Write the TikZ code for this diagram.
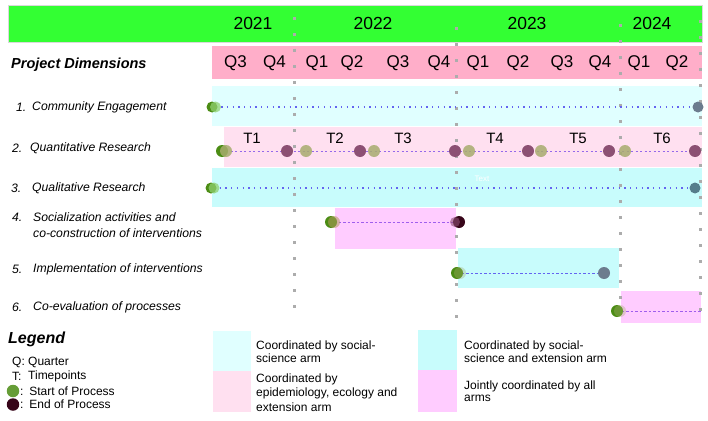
\documentclass[tikz,border=0pt]{standalone}
\usepackage{fontspec}
\setmainfont{Liberation Sans}
\usetikzlibrary{backgrounds}
\definecolor{barG}{RGB}{51,255,51}
\definecolor{qpink}{RGB}{255,174,201}
\definecolor{lcyan}{RGB}{224,255,255}
\definecolor{cyanb}{RGB}{200,252,252}
\definecolor{lpink}{RGB}{255,224,240}
\definecolor{magb}{RGB}{255,204,255}
\definecolor{gridc}{RGB}{172,172,172}
\definecolor{dkgreen}{RGB}{75,140,20}
\definecolor{olivec}{RGB}{168,172,110}
\definecolor{purpc}{RGB}{140,80,115}
\definecolor{endgc}{RGB}{108,124,142}
\definecolor{maroonc}{RGB}{55,5,25}
\definecolor{bluedot}{RGB}{100,100,240}
\definecolor{purpdash}{RGB}{150,105,235}
\begin{document}
\begin{tikzpicture}[x=1pt,y=-1pt,
  lbl/.style={font=\fontsize{12.2}{16}\selectfont\itshape, anchor=west, inner sep=0pt},
  yr/.style={font=\fontsize{17.5}{20}\selectfont, inner sep=0pt},
  qq/.style={font=\fontsize{17}{20}\selectfont, inner sep=0pt},
  tt/.style={font=\fontsize{15}{18}\selectfont, inner sep=0pt},
  leg/.style={font=\fontsize{12}{13.5}\selectfont, anchor=west, inner sep=0pt, align=left},
  dot/.style={circle, inner sep=0pt, minimum size=12pt},
  olivedot/.style={dot, fill=olivec, fill opacity=.85},
  greendot/.style={dot, fill=dkgreen},
  purpdot/.style={dot, fill=purpc},
  enddot/.style={dot, fill=endgc},
  gridl/.style={draw=gridc, line width=3pt, dash pattern=on 3pt off 13pt},
  dotl/.style={draw=bluedot, line width=1.3pt, dash pattern=on 1.3pt off 4.4pt},
  dashq/.style={draw=purpdash, line width=1pt, dash pattern=on 2pt off 2.5pt},
  dashp/.style={draw=purpdash!90!magenta, line width=1pt, dash pattern=on 2.5pt off 2pt},
  dashb/.style={draw=bluedot, line width=1pt, dash pattern=on 2.5pt off 2pt}]
\useasboundingbox (0,0) rectangle (708,420);

\begin{pgfonlayer}{background}
  % header bars
  \fill[barG, draw=gray!30, line width=0.6pt] (8,5) rectangle (702,42);
  \fill[qpink] (212,46) rectangle (702,79);
  % row boxes
  \fill[lcyan] (212,86) rectangle (702,126);
  \fill[lpink] (224,127) rectangle (702,167);
  \fill[cyanb] (212,168) rectangle (702,207);
  \fill[magb] (335,208) rectangle (456,249);
  \fill[cyanb] (458,248) rectangle (619,288);
  \fill[magb] (621,291) rectangle (701,323);
  % legend boxes
  \fill[lcyan] (213,331) rectangle (251,371);
  \fill[lpink] (213,371) rectangle (251,412);
  \fill[cyanb] (418,330) rectangle (457,370);
  \fill[magb] (418,370) rectangle (457,412);
  % vertical year dividers
  \draw[gridl] (294,17) -- (294,318);
  \draw[gridl] (456,27) -- (456,318);
  \draw[gridl] (620,24) -- (620,322);
  \draw[gridl] (700,20) -- (700,322);
\end{pgfonlayer}

% years
\node[yr] (y21) at (253,23) {2021};
\node[yr] (y22) at (373,23) {2022};
\node[yr] (y23) at (527,23) {2023};
\node[yr] (y24) at (652,23) {2024};

% quarters
\node[qq] (q1) at (235.5,63) {Q3};
\node[qq] (q2) at (274.5,63) {Q4};
\node[qq] (q3) at (317,63) {Q1};
\node[qq] (q4) at (352,63) {Q2};
\node[qq] (q5) at (398,63) {Q3};
\node[qq] (q6) at (439,63) {Q4};
\node[qq] (q7) at (478,63) {Q1};
\node[qq] (q8) at (518,63) {Q2};
\node[qq] (q9) at (562,63) {Q3};
\node[qq] (q10) at (600,63) {Q4};
\node[qq] (q11) at (639,63) {Q1};
\node[qq] (q12) at (677,63) {Q2};

\node[font=\fontsize{14.5}{17}\selectfont\bfseries\itshape, anchor=west, inner sep=0pt] (pd) at (11,65) {Project Dimensions};

% row labels
\node[lbl] (n1) at (16,107) {1.};
\node[lbl] (l1) at (32,107) {Community Engagement};
\node[lbl] (n2) at (12,148) {2.};
\node[lbl] (l2) at (30,148) {Quantitative Research};
\node[lbl] (n3) at (11,188) {3.};
\node[lbl] (l3) at (32,188) {Qualitative Research};
\node[lbl] (n4) at (12,217) {4.};
\node[lbl, align=left] (l4) at (33,225) {Socialization activities and\\co-construction of interventions};
\node[lbl] (n5) at (12,269) {5.};
\node[lbl] (l5) at (33,269) {Implementation of interventions};
\node[lbl] (n6) at (12,307) {6.};
\node[lbl] (l6) at (33,307) {Co-evaluation of processes};

% timepoint labels
\node[tt] (t1) at (252,138) {T1};
\node[tt] (t2) at (335,138) {T2};
\node[tt] (t3) at (403,138) {T3};
\node[tt] (t4) at (495,138) {T4};
\node[tt] (t5) at (578,138) {T5};
\node[tt] (t6) at (662,138) {T6};

\node[text=white, font=\fontsize{8}{9}\selectfont, inner sep=0pt] (txt) at (482,179) {Text};

% row 1
\node[greendot, minimum size=11pt] (s1dk) at (212,107) {};
\node[olivedot, fill=olivec!70!green!80!white, fill opacity=.75, minimum size=11pt] (s1) at (215.5,107) {};
\node[enddot, minimum size=11pt] (e1) at (698,107) {};
% row 2
\node[greendot] (s2dk) at (222,151) {};
\node[olivedot] (p0) at (226,151) {};
\node[purpdot] (p1) at (287,151) {};
\node[olivedot] (p2) at (306,151) {};
\node[purpdot] (p3) at (360,151) {};
\node[olivedot] (p4) at (374,151) {};
\node[purpdot] (p5) at (455,151) {};
\node[olivedot] (p6) at (469,151) {};
\node[purpdot] (p7) at (528,151) {};
\node[olivedot] (p8) at (541,151) {};
\node[purpdot] (p9) at (609,151) {};
\node[olivedot] (p10) at (625,151) {};
\node[purpdot] (p11) at (695,151) {};
% row 3
\node[greendot, minimum size=11pt] (s3dk) at (211,188) {};
\node[olivedot, fill=olivec!70!green!80!white, fill opacity=.75, minimum size=11pt] (s3) at (214,188) {};
\node[enddot, fill=endgc!80!teal, minimum size=11pt] (e3) at (695,188) {};
% row 4
\node[greendot] (s4dk) at (331,222) {};
\node[dot, fill=olivec!60!brown, fill opacity=.55] (s4) at (334,222) {};
\node[dot, fill=maroonc] (e4dk) at (459,222) {};
\node[dot, fill=purpc, fill opacity=.6, minimum size=10pt] (e4) at (455,222) {};
% row 5
\node[greendot] (s5) at (457,273) {};
\node[dot, fill=olivec, fill opacity=.35] (s5o) at (460,273) {};
\node[enddot] (e5) at (604,273) {};
% row 6
\node[greendot] (s6) at (617,311) {};
\node[dot, fill=olivec, fill opacity=.35] (s6o) at (620,311) {};
\coordinate (e6) at (702,311);

% connectors
\begin{pgfonlayer}{background}
  \draw[dotl] (s1.center) -- (e1.center);
  \draw[dashq] (p0.center) -- (p11.center);
  \draw[dotl] (s3.center) -- (e3.center);
  \draw[dashp] (s4.center) -- (e4.center);
  \draw[dashb] (s5.center) -- (e5.center);
  \draw[dashp] (s6.center) -- (e6);
\end{pgfonlayer}

% legend
\node[font=\fontsize{16}{18}\selectfont\bfseries\itshape, anchor=west, inner sep=0pt] (lg) at (8,339) {Legend};
\node[leg] (lq) at (12,362) {Q: Quarter};
\node[leg] (ltk) at (12,376.5) {T:};
\node[leg] (lt) at (28,376.5) {Timepoints};
\node[dot, fill=dkgreen!85!white, minimum size=12.5pt] (lsd) at (13,391) {};
\node[leg] (ls) at (19.8,391) {:\enspace Start of Process};
\node[dot, fill=maroonc, minimum size=12.5pt] (led) at (13,404.5) {};
\node[leg] (le) at (19.8,404.5) {:\enspace End of Process};

\node[leg] (lb1) at (256,351.5) {Coordinated by social-\\science arm};
\node[leg, font=\fontsize{12}{14.5}\selectfont] (lb2) at (256,392.5) {Coordinated by\\epidemiology, ecology and\\extension arm};
\node[leg] (lb3) at (464,351.5) {Coordinated by social-\\science and extension arm};
\node[leg, font=\fontsize{12}{12.5}\selectfont] (lb4) at (464,391) {Jointly coordinated by all\\arms};
\end{tikzpicture}
\end{document}
